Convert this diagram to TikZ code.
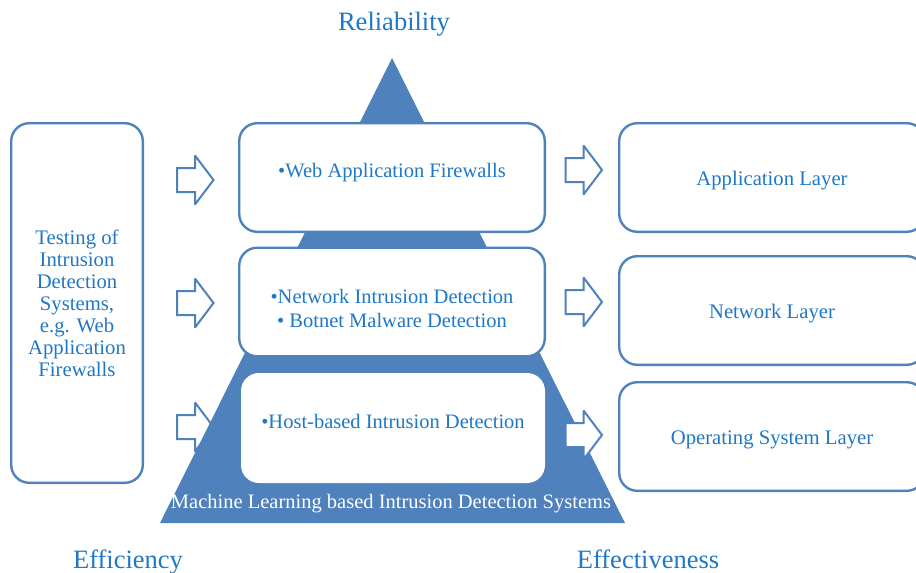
\documentclass[tikz,border=0pt]{standalone}
\usepackage{fontspec}
\setmainfont{Liberation Serif}
\definecolor{pyrblue}{HTML}{4F81BD}
\definecolor{txtblue}{HTML}{1F78C6}
\tikzset{px/.style={
  x=1pt,
  y=-1pt
}}
\tikzset{lbox/.style={
  draw=pyrblue,
  line width=2.4pt,
  fill=white,
  rounded corners=18pt,
  text=txtblue,
  align=center,
  font=\fontsize{20.7}{22}\selectfont
}}
\tikzset{lyr/.style={lbox,minimum width=305.6pt,minimum height=108.6pt,
  text height=19.5pt,text depth=4.5pt}}
\tikzset{txt/.style={text=txtblue,align=center,font=\fontsize{20.5}{24}\selectfont}}
\tikzset{big/.style={text=txtblue,anchor=base,font=\fontsize{26.5}{30}\selectfont}}
\tikzset{harrow/.pic={
  \draw[pyrblue,line width=2pt,fill=white,miter limit=3]
    (-18,-12) -- (0,-12) -- (0,-24.5) -- (18.5,0)
    -- (0,24.5) -- (0,12) -- (-18,12) -- cycle;
}}

\begin{document}
\begin{tikzpicture}[px]
    \useasboundingbox (0,0) rectangle (916,573);

    % Left column and entry arrows
    \node[lbox,minimum width=131.6pt,minimum height=359.6pt] (test) at (77,303)
      {Testing of\\Intrusion\\Detection\\Systems,\\e.g. Web\\Application\\Firewalls};
    \pic (inA) at (195,180) {harrow};
    \pic (inB) at (195,303) {harrow};
    \pic (inC) at (195,427) {harrow};

    % Pyramid
    \coordinate (apex) at (392,58);
    \coordinate (baseR) at (625,523);
    \coordinate (baseL) at (160,523);
    \fill[pyrblue] (apex) -- (baseR) -- (baseL) -- cycle;
    \node[txt,text=white] (mlids) at (391,504)
      {Machine Learning based Intrusion Detection Systems};

    % Layers of the pyramid
    \node[lyr] (waf) at (392,177.5) {};
    \node[lyr] (nids) at (392,302) {};
    \node[lbox,draw=none,minimum width=304pt,minimum height=110pt] (hids) at (393,428) {};
    \node[txt] (wafT) at ([yshift=5pt]waf.center) {•Web Application Firewalls};
    \node[txt] (nidsT) at ([yshift=-6pt]nids.center)
      {•Network Intrusion Detection\\• Botnet Malware Detection};
    \node[txt] (hidsT) at ([yshift=7pt]hids.center) {•Host-based Intrusion Detection};

    % Output arrows and layers
    \pic (outA) at (583.5,170) {harrow};
    \pic (outB) at (583.5,302) {harrow};
    \pic (outC) at (583.5,435) {harrow};
    \node[lyr] (applay) at (772,177.5) {Application Layer};
    \node[lyr] (netlay) at (772,310.5) {Network Layer};
    \node[lyr] (oslay) at (772,436.5) {Operating System Layer};

    % Axis words
    \node[big] (rel) at (394,30.5) {Reliability};
    \node[big] (eff) at (128,568.5) {Efficiency};
    \node[big] (effc) at (648,568.5) {Effectiveness};

\end{tikzpicture}
\end{document}
